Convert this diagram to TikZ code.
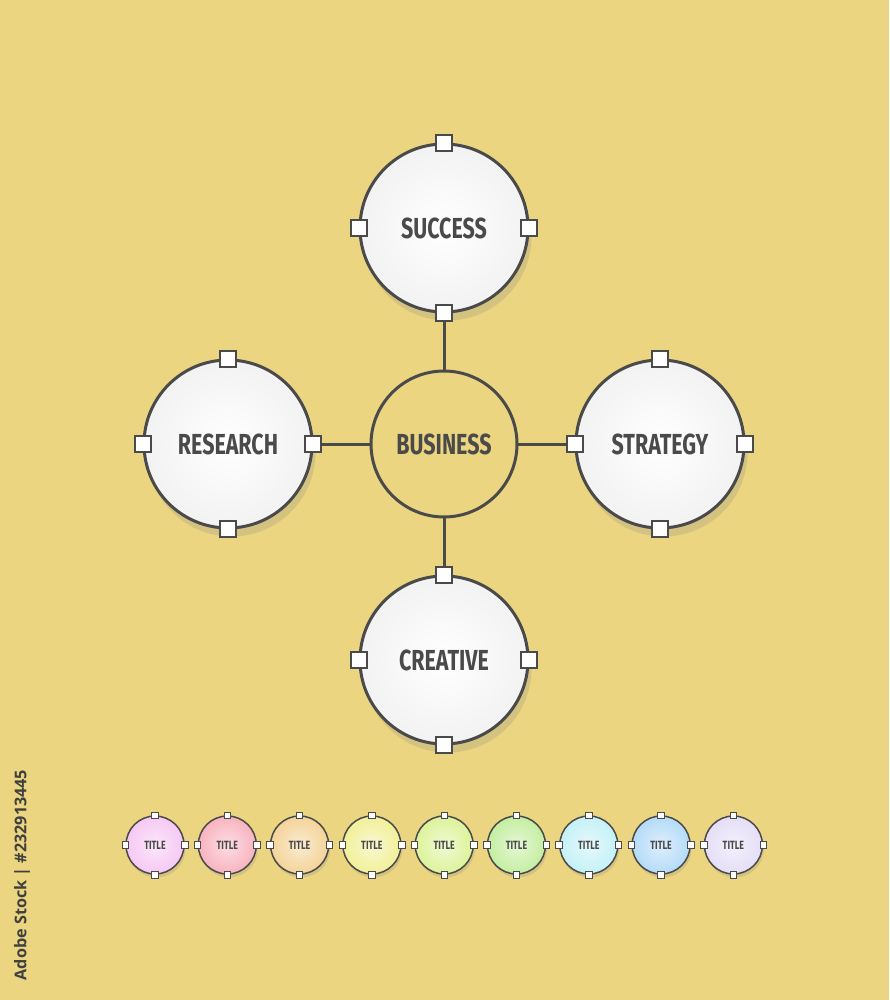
\documentclass[tikz,border=0pt]{standalone}
\usepackage{fontspec}
\usetikzlibrary{shadows}
\newfontfamily\cond[FakeStretch=0.74]{Fira Sans}
\newfontfamily\wmfont{Open Sans}
\definecolor{bg}{HTML}{EBD580}
\definecolor{ln}{HTML}{4A4A4A}
\definecolor{c1}{HTML}{F6C8F4}
\definecolor{c2}{HTML}{F8B3BF}
\definecolor{c3}{HTML}{F4D398}
\definecolor{c4}{HTML}{F1F098}
\definecolor{c5}{HTML}{DCF39A}
\definecolor{c6}{HTML}{C4EEA1}
\definecolor{c7}{HTML}{C4F1F7}
\definecolor{c8}{HTML}{B4DBF8}
\definecolor{c9}{HTML}{E5DEF7}
\tikzset{
  big/.style={circle, draw=ln, line width=0.06cm, minimum size=3.36cm, inner sep=0pt,
    shade, inner color=white, outer color=black!5,
    drop shadow={shadow xshift=0.07cm, shadow yshift=-0.17cm, opacity=0.22},
    font=\cond\bfseries\fontsize{16.5}{18}\selectfont, text=ln},
  hub/.style={circle, draw=ln, line width=0.06cm, minimum size=2.92cm, inner sep=0pt,
    font=\cond\bfseries\fontsize{16.5}{18}\selectfont, text=ln},
  handle/.style={draw=ln, line width=0.04cm, fill=white, minimum size=0.32cm, inner sep=0pt},
  conn/.style={draw=ln, line width=0.06cm},
  small/.style={circle, draw=ln, line width=0.03cm, minimum size=1.16cm, inner sep=0pt,
    drop shadow={shadow xshift=0.03cm, shadow yshift=-0.07cm, opacity=0.22},
    font=\cond\bfseries\fontsize{6.8}{8}\selectfont, text=ln},
  shandle/.style={draw=ln, line width=0.015cm, fill=white, minimum size=0.13cm, inner sep=0pt},
}
\begin{document}
\begin{tikzpicture}[x=0.02cm, y=-0.02cm]
\fill[bg] (0,0) rectangle (889,1000);
\useasboundingbox (0,0) rectangle (889,1000);

\node[hub] (bus) at (444,444) {BUSINESS};
\node[big] (suc) at (444,228) {SUCCESS};
\node[big] (res) at (228,444) {RESEARCH};
\node[big] (str) at (660,444) {STRATEGY};
\node[big] (cre) at (444,660) {CREATIVE};

\foreach \n in {suc,res,str,cre}{
  \node[handle] (\n N) at (\n.north) {};
  \node[handle] (\n S) at (\n.south) {};
  \node[handle] (\n E) at (\n.east) {};
  \node[handle] (\n W) at (\n.west) {};
}

\draw[conn] (bus) -- (sucS);
\draw[conn] (bus) -- (resE);
\draw[conn] (bus) -- (strW);
\draw[conn] (bus) -- (creN);

\foreach \c [count=\i] in {c1,c2,c3,c4,c5,c6,c7,c8,c9}{
  \pgfmathsetmacro\xx{155+72.3*(\i-1)}
  \node[small, shade, inner color=\c!45!white, outer color=\c] (s\i) at (\xx,845) {TITLE};
  \node[shandle] (s\i N) at (s\i.north) {};
  \node[shandle] (s\i S) at (s\i.south) {};
  \node[shandle] (s\i E) at (s\i.east) {};
  \node[shandle] (s\i W) at (s\i.west) {};
}

\node[rotate=90, font=\wmfont\bfseries\fontsize{9.2}{11}\selectfont, text=black!75] (wmk) at (22,875) {Adobe Stock | \#232913445};
\end{tikzpicture}
\end{document}
